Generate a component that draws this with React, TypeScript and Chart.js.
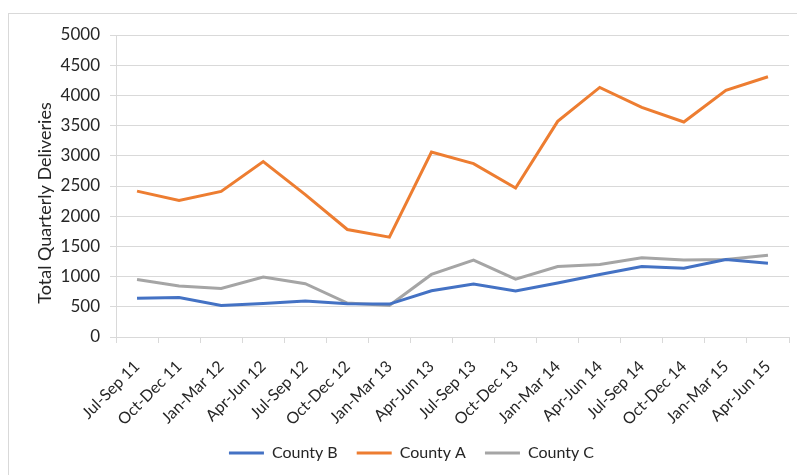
import React, { useEffect, useRef } from "react";
import { Chart, registerables } from "chart.js";

Chart.register(...registerables);

const categories = [
  "Jul-Sep 11", "Oct-Dec 11", "Jan-Mar 12", "Apr-Jun 12",
  "Jul-Sep 12", "Oct-Dec 12", "Jan-Mar 13", "Apr-Jun 13",
  "Jul-Sep 13", "Oct-Dec 13", "Jan-Mar 14", "Apr-Jun 14",
  "Jul-Sep 14", "Oct-Dec 14", "Jan-Mar 15", "Apr-Jun 15",
];

const countyB = [640, 655, 522, 556, 595, 550, 545, 766, 876, 760, 893, 1036, 1168, 1140, 1284, 1223];
const countyA = [2415, 2259, 2410, 2904, 2358, 1780, 1653, 3063, 2871, 2468, 3570, 4132, 3802, 3559, 4083, 4309];
const countyC = [953, 843, 804, 992, 882, 562, 523, 1036, 1273, 959, 1168, 1201, 1311, 1273, 1284, 1355];

const yMin = 0;
const yMax = 5000;
const yStep = 500;
const yTitle = "Total Quarterly Deliveries";

const FONT = "Lato, 'Open Sans', sans-serif";
const TEXT = "#262626";

const framePlugin = {
  id: "frame",
  afterLayout(chart: any) {
    if (chart.legend) {
      chart.legend.left += 17;
      chart.legend.right += 17;
    }
  },
  beforeDraw(chart: any) {
    const ctx = chart.ctx;
    ctx.save();
    ctx.fillStyle = "#ffffff";
    ctx.fillRect(0, 0, chart.width, chart.height);
    ctx.strokeStyle = "#d9d9d9";
    ctx.lineWidth = 1;
    ctx.strokeRect(8.5, 13.5, chart.width - 17, chart.height + 20);
    ctx.restore();
  },
  afterDraw(chart: any) {
    const ctx = chart.ctx;
    const area = chart.chartArea;
    ctx.save();
    ctx.fillStyle = TEXT;
    ctx.font = `18px ${FONT}`;
    ctx.textAlign = "center";
    ctx.textBaseline = "middle";
    ctx.translate(45, (area.top + area.bottom) / 2 + 17);
    ctx.rotate(-Math.PI / 2);
    ctx.fillText(yTitle, 0, 0);
    ctx.restore();
  },
};

export default function App() {
  const ref = useRef<HTMLCanvasElement | null>(null);

  useEffect(() => {
    document.body.style.margin = "0";
    if (!ref.current) return;
    const chart = new Chart(ref.current, {
      type: "line",
      data: {
        labels: categories,
        datasets: [
          { label: "County B", data: countyB, borderColor: "#4472C4", backgroundColor: "#4472C4", borderWidth: 3, pointRadius: 0, tension: 0 },
          { label: "County A", data: countyA, borderColor: "#ED7D31", backgroundColor: "#ED7D31", borderWidth: 3, pointRadius: 0, tension: 0 },
          { label: "County C", data: countyC, borderColor: "#A5A5A5", backgroundColor: "#A5A5A5", borderWidth: 3, pointRadius: 0, tension: 0 },
        ],
      },
      options: {
        animation: false,
        responsive: false,
        maintainAspectRatio: false,
        layout: { padding: { left: 0, right: 36, top: 35, bottom: 4 } },
        plugins: {
          tooltip: { enabled: false },
          legend: {
            position: "bottom",
            labels: {
              usePointStyle: true,
              pointStyle: "line",
              pointStyleWidth: 35,
              padding: 19,
              color: TEXT,
              font: { family: FONT, size: 16 },
            },
          },
        },
        scales: {
          x: {
            offset: true,
            afterFit: (s: any) => { s.height = 89; },
            grid: { offset: true, drawOnChartArea: false, drawTicks: true, tickLength: 6, color: "#d9d9d9" },
            border: { color: "#d9d9d9" },
            ticks: {
              autoSkip: false,
              minRotation: 45,
              maxRotation: 45,
              padding: 14,
              color: TEXT,
              font: { family: FONT, size: 16 },
            },
          },
          y: {
            min: yMin,
            max: yMax,
            afterFit: (s: any) => { s.width = 116; },
            grid: { color: "#d9d9d9", tickLength: 6 },
            border: { color: "#d9d9d9" },
            ticks: {
              stepSize: yStep,
              padding: 10,
              color: TEXT,
              font: { family: FONT, size: 17 },
              callback: (v: any) => String(v),
            },
          },
        },
      },
      plugins: [framePlugin],
    });
    return () => chart.destroy();
  }, []);

  return (
    <div style={{ width: 797, height: 475, overflow: "hidden", position: "relative" }}>
      <canvas ref={ref} width={825} height={475} style={{ width: 825, height: 475, display: "block" }} />
    </div>
  );
}
